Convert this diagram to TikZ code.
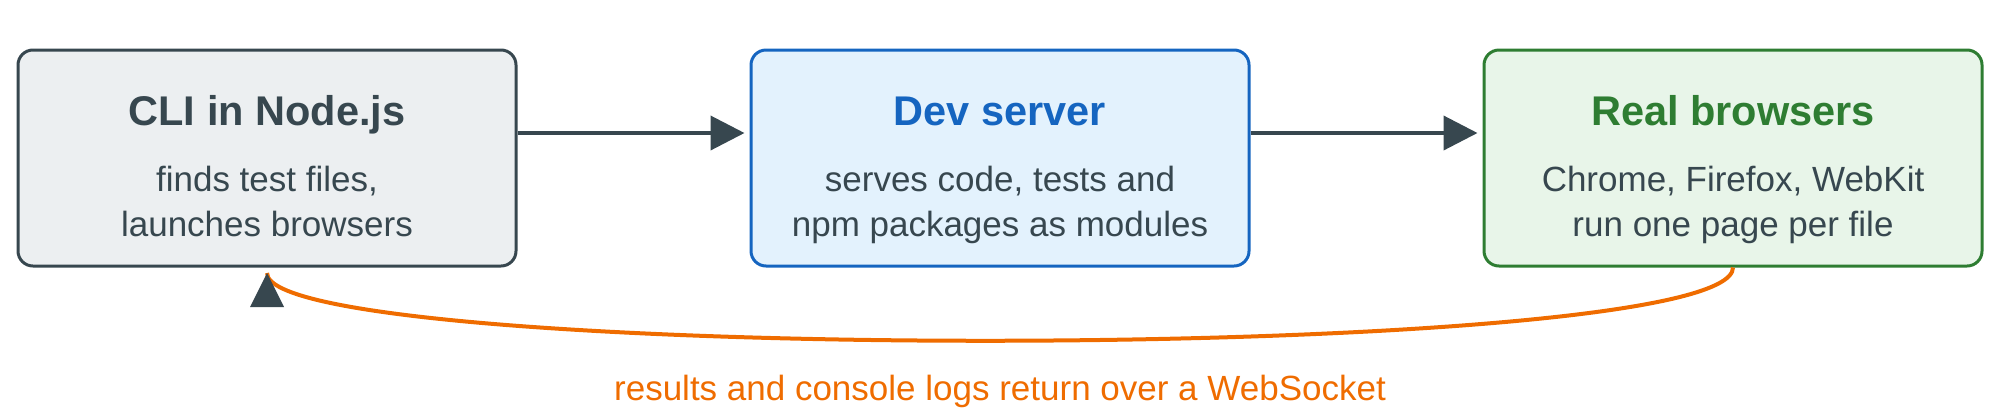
\documentclass[tikz,border=0pt]{standalone}
\usepackage{fontspec}
\setmainfont{Liberation Sans}
\usetikzlibrary{arrows.meta}
\definecolor{dark}{HTML}{37474F}
\definecolor{bluec}{HTML}{1565C0}
\definecolor{greenc}{HTML}{2E7D32}
\definecolor{orangec}{HTML}{EF6C00}
\definecolor{fillA}{HTML}{ECEFF1}
\definecolor{fillB}{HTML}{E3F2FD}
\definecolor{fillC}{HTML}{E8F5E9}
\begin{document}
\begin{tikzpicture}[x=0.5pt,y=-0.5pt,
 box/.style={draw, line width=1.5pt, rounded corners=7.5pt, minimum width=249pt, minimum height=108pt, inner sep=0pt},
 ttl/.style={anchor=base, font=\bfseries\fontsize{20.75}{25}\selectfont},
 sub/.style={anchor=base, text=dark, font=\fontsize{17.5}{21}\selectfont},
 flow/.style={draw=dark, line width=2pt, -{Triangle[length=17pt,width=17pt]}, shorten >=2.5pt},
 ret/.style={draw=orangec, line width=2pt},
]
\useasboundingbox (0,0) rectangle (2000,408);
% boxes
\node[box, draw=dark, fill=fillA] (b1) at (267,158) {};
\node[box, draw=bluec, fill=fillB] (b2) at (1000,158) {};
\node[box, draw=greenc, fill=fillC] (b3) at (1733,158) {};
% texts
\node[ttl, text=dark] (t1) at (267,125) {CLI in Node.js};
\node[sub] (s1a) at (267,191.7) {finds test files,};
\node[sub] (s1b) at (267,236.7) {launches browsers};
\node[ttl, text=bluec] (t2) at (1000,125) {Dev server};
\node[sub] (s2a) at (1000,191.7) {serves code, tests and};
\node[sub] (s2b) at (1000,236.7) {npm packages as modules};
\node[ttl, text=greenc] (t3) at (1733,125) {Real browsers};
\node[sub] (s3a) at (1733,191.7) {Chrome, Firefox, WebKit};
\node[sub] (s3b) at (1733,236.7) {run one page per file};
% forward arrows
\coordinate (ay) at (0,133);
\draw[flow] (b1.east |- ay) -- (b2.west |- ay);
\draw[flow] (b2.east |- ay) -- (b3.west |- ay);
% return curve
\coordinate (tipc) at (267,273);
\draw[ret] (b3.south) .. controls +(0,97) and +(0,91) .. (tipc);
\fill[dark] (tipc) -- ++(-17,34) -- ++(34,0) -- cycle;
\node[anchor=base, text=orangec, font=\fontsize{17.5}{21}\selectfont] (lbl) at (1000,400) {results and console logs return over a WebSocket};
\end{tikzpicture}
\end{document}
